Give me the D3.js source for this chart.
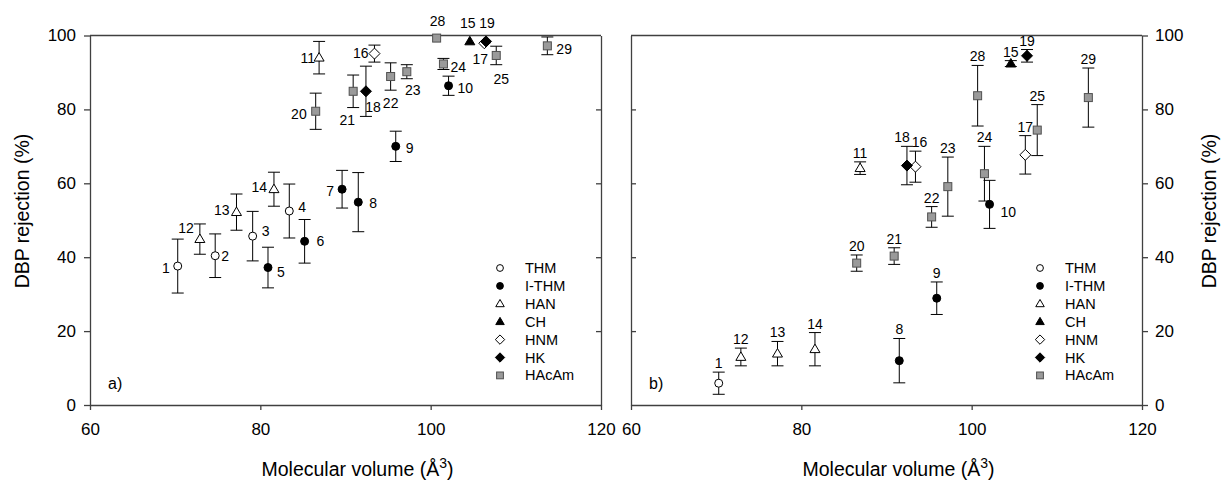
<!DOCTYPE html>
<html>
<head>
<meta charset="utf-8">
<script src="https://cdn.jsdelivr.net/npm/d3@7"></script>
<style>
  body { margin: 0; background: #fff; }
  svg text { font-family: "Liberation Sans", Arial, sans-serif; fill: #000; }
  .axis path, .axis line { stroke: #404040; stroke-width: 1.3; }
  .axis text { font-size: 17px; }
</style>
</head>
<body>
<svg id="chart" width="1222" height="485"></svg>
<script>
// DBP rejection vs molecular volume, two panels

// compound numbers and their class
var compounds = [1, 2, 3, 4, 5, 6, 7, 8, 9, 10, 11, 12, 13, 14, 15, 16, 17, 18, 19, 20, 21, 22, 23, 24, 25, 28, 29];
var classes = ["THM", "THM", "THM", "THM", "I-THM", "I-THM", "I-THM", "I-THM", "I-THM", "I-THM",
    "HAN", "HAN", "HAN", "HAN", "CH", "HNM", "HNM", "HK", "HK",
    "HAcAm", "HAcAm", "HAcAm", "HAcAm", "HAcAm", "HAcAm", "HAcAm", "HAcAm"];
var volume = [70.3, 74.7, 79.1, 83.4, 80.9, 85.2, 89.6, 91.5, 95.9, 102.1, 86.9, 72.9, 77.2, 81.6, 104.6, 93.4, 106.3, 92.4, 106.5,
    86.5, 90.9, 95.3, 97.2, 101.5, 107.7, 100.7, 113.7];

// panel a)
var rejectionA = [37.6, 40.4, 45.7, 52.5, 37.2, 44.3, 58.4, 54.9, 70.0, 86.4, 94.0, 44.9, 52.2, 58.4, 98.4, 95.1, 97.9, 84.9, 98.4,
    79.5, 84.9, 88.9, 90.2, 92.3, 94.6, 99.3, 97.2];
var errorA = [7.3, 5.9, 6.7, 7.3, 5.5, 5.9, 5.1, 8.0, 4.1, 2.6, 4.4, 4.1, 4.9, 4.6, 0, 2.3, 0, 6.8, 0,
    4.9, 4.4, 3.7, 1.9, 1.5, 2.5, 0, 2.4];

// panel b) (null = not measured)
var rejectionB = [5.9, null, null, null, null, null, null, 12.0, 28.9, 54.3, 64.1, 13.0, 13.9, 15.1, 92.4, 64.5, 67.7, 64.8, 94.5,
    38.4, 40.3, 50.9, 59.1, 62.6, 74.4, 83.7, 83.2];
var errorB = [3.0, null, null, null, null, null, null, 6.0, 4.4, 6.5, 1.7, 2.4, 3.3, 4.5, 0.8, 4.2, 5.2, 5.2, 1.7,
    2.2, 2.25, 2.8, 8.0, 7.4, 6.9, 8.2, 8.0];

var classNames = ["THM", "I-THM", "HAN", "CH", "HNM", "HK", "HAcAm"];
var xTicks = [60, 80, 100, 120];
var yTicks = [0, 20, 40, 60, 80, 100];

// label placement: [dx, dy, anchor] from marker centre
var labelsA = {
    1: [-8, 2, "end"], 2: [6, 0, "start"], 3: [9, -5, "start"], 4: [9, -4, "start"], 5: [9, 5, "start"],
    6: [12, 0, "start"], 7: [-8, 2, "end"], 8: [11, 1, "start"], 9: [10, 2, "start"], 10: [9, 2, "start"],
    11: [-4, 0, "end"], 12: [-6, -11, "end"], 13: [-7, -2, "end"], 14: [-7, -2, "end"], 15: [-2, -18, "middle"],
    16: [-6, -1, "end"], 17: [-4, 16, "middle"], 18: [7, 16, "middle"], 19: [1, -18, "middle"], 20: [-9, 3, "end"],
    21: [-6, 29, "middle"], 22: [0, 27, "middle"], 23: [6, 18, "middle"], 24: [7, 3, "start"], 25: [5, 24, "middle"],
    28: [1, -17, "middle"], 29: [9, 3, "start"]
};
var labelShiftB = { 18: -5, 16: 4 };

var svg = d3.select("#chart");

var plotTop = 35.5, plotBottom = 405;
var panels = [
    { left: 90, right: 601, rej: rejectionA, err: errorA, tag: "a)", side: "left" },
    { left: 631, right: 1142, rej: rejectionB, err: errorB, tag: "b)", side: "right" }
];

var y = d3.scaleLinear().domain([0, 100]).range([plotBottom, plotTop]);

function marker(g, cls, cx, cy, k) {
    var s = k || 1;
    if (cls === "THM" || cls === "I-THM") {
        g.append("circle").attr("cx", cx).attr("cy", cy).attr("r", 4 * s)
            .attr("fill", cls === "THM" ? "#fff" : "#000").attr("stroke", "#000").attr("stroke-width", 1);
    } else if (cls === "HAN" || cls === "CH") {
        var h = 8.5 * s, w = 5 * s;
        g.append("path")
            .attr("d", "M" + cx + "," + (cy - h * 0.6) + "L" + (cx + w) + "," + (cy + h * 0.4) + "L" + (cx - w) + "," + (cy + h * 0.4) + "Z")
            .attr("fill", cls === "HAN" ? "#fff" : "#000").attr("stroke", "#000").attr("stroke-width", 1);
    } else if (cls === "HNM" || cls === "HK") {
        var d = 5.5 * s;
        g.append("path")
            .attr("d", "M" + cx + "," + (cy - d) + "L" + (cx + d) + "," + cy + "L" + cx + "," + (cy + d) + "L" + (cx - d) + "," + cy + "Z")
            .attr("fill", cls === "HNM" ? "#fff" : "#000").attr("stroke", "#000").attr("stroke-width", 1);
    } else {
        var q = 4 * s;
        g.append("rect").attr("x", cx - q).attr("y", cy - q).attr("width", 2 * q).attr("height", 2 * q)
            .attr("fill", "#9a9a9a").attr("stroke", "#505050").attr("stroke-width", 1);
    }
}

panels.forEach(function(p, pi) {
    var x = d3.scaleLinear().domain([60, 120]).range([p.left, p.right]);
    var g = svg.append("g");

    // frame and axes
    g.append("g").attr("class", "axis")
        .attr("transform", "translate(0," + plotBottom + ")")
        .call(d3.axisBottom(x).tickValues(xTicks).tickSize(5).tickSizeOuter(0).tickPadding(13));

    if (p.side === "left") {
        g.append("g").attr("class", "axis")
            .attr("transform", "translate(" + p.left + ",0)")
            .call(d3.axisLeft(y).tickValues(yTicks).tickSize(6).tickSizeOuter(0).tickPadding(8));
        g.append("g").attr("class", "axis")
            .attr("transform", "translate(" + p.right + ",0)")
            .call(d3.axisLeft(y).tickValues(yTicks.slice(1, 5)).tickSize(5).tickSizeOuter(0).tickFormat(""));
    } else {
        g.append("g").attr("class", "axis")
            .attr("transform", "translate(" + p.right + ",0)")
            .call(d3.axisRight(y).tickValues(yTicks).tickSize(6).tickSizeOuter(0).tickPadding(7));
        g.append("g").attr("class", "axis")
            .attr("transform", "translate(" + p.left + ",0)")
            .call(d3.axisRight(y).tickValues(yTicks.slice(1, 5)).tickSize(5).tickSizeOuter(0).tickFormat(""));
    }
    g.append("line").attr("x1", p.left).attr("x2", p.right).attr("y1", plotTop).attr("y2", plotTop)
        .attr("stroke", "#404040").attr("stroke-width", 1.3);

    // points present in this panel
    var idx = compounds.map(function(c, i) { return i; }).filter(function(i) { return p.rej[i] != null; });

    // error bars
    idx.forEach(function(i) {
        if (!p.err[i]) return;
        var cx = x(volume[i]), y1 = y(p.rej[i] + p.err[i]), y2 = y(p.rej[i] - p.err[i]);
        g.append("path")
            .attr("d", "M" + cx + "," + y1 + "V" + y2 + "M" + (cx - 6) + "," + y1 + "H" + (cx + 6) + "M" + (cx - 6) + "," + y2 + "H" + (cx + 6))
            .attr("stroke", "#000").attr("stroke-width", 1).attr("fill", "none");
    });

    // markers
    idx.forEach(function(i) {
        marker(g, classes[i], x(volume[i]), y(p.rej[i]));
    });

    // compound labels
    idx.forEach(function(i) {
        var c = compounds[i], cx = x(volume[i]), cy = y(p.rej[i]);
        var t = g.append("text").attr("font-size", 14).text(c);
        if (pi === 0) {
            var l = labelsA[c];
            t.attr("x", cx + l[0]).attr("y", cy + l[1]).attr("dy", "0.35em").attr("text-anchor", l[2]);
        } else if (c === 10) {
            t.attr("x", cx + 11).attr("y", cy + 8).attr("dy", "0.35em");
        } else {
            t.attr("x", cx + (labelShiftB[c] || 0)).attr("y", y(p.rej[i] + p.err[i]) - 4).attr("text-anchor", "middle");
        }
    });

    // legend
    var lx = p.right - (pi === 0 ? 101 : 102);
    classNames.forEach(function(cn, k) {
        var ly = 268 + k * 17.9;
        marker(g, cn, lx, ly, 0.85);
        g.append("text").attr("x", lx + 25).attr("y", ly).attr("dy", "0.35em")
            .attr("font-size", 14.5).text(cn);
    });

    // panel tag
    g.append("text").attr("x", p.left + 18).attr("y", 389)
        .attr("font-size", 16).text(p.tag);

    // x title
    var xt = g.append("text").attr("x", (p.left + p.right) / 2 + 12).attr("y", 476)
        .attr("text-anchor", "middle").attr("font-size", 19.5);
    xt.append("tspan").text("Molecular volume (Å");
    xt.append("tspan").attr("dy", -8).attr("font-size", 14).text("3");
    xt.append("tspan").attr("dy", 8).text(")");
});

// y titles
svg.append("text").attr("transform", "translate(29,211) rotate(-90)")
    .attr("text-anchor", "middle").attr("font-size", 19.5).text("DBP rejection (%)");
svg.append("text").attr("transform", "translate(1216,211) rotate(-90)")
    .attr("text-anchor", "middle").attr("font-size", 19.5).text("DBP rejection (%)");
</script>
</body>
</html>
